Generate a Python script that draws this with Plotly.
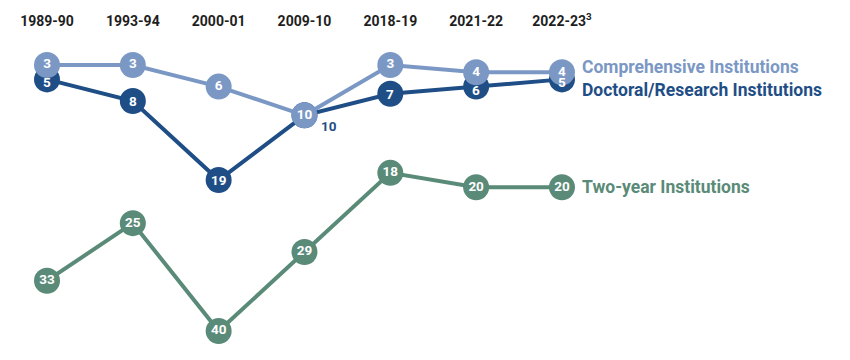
import plotly.graph_objects as go

years = ["1989-90", "1993-94", "2000-01", "2009-10", "2018-19", "2021-22", "2022-23"]
tick_labels = ["1989-90", "1993-94", "2000-01", "2009-10", "2018-19", "2021-22", "2022-23<sup>3</sup>"]
comprehensive = [3, 3, 6, 10, 3, 4, 4]
doctoral = [5, 8, 19, 10, 7, 6, 5]
two_year = [33, 25, 40, 29, 18, 20, 20]
series_names = ["Comprehensive Institutions", "Doctoral/Research Institutions", "Two-year Institutions"]

C_COMP = "#7b98c5"
C_DOC = "#1f4e86"
C_TWO = "#5a8a78"
FONT = "Roboto, Liberation Sans Narrow, sans-serif"

x = list(range(len(years)))
fig = go.Figure()

def add_series(vals, color, name, show_text=True):
    fig.add_trace(go.Scatter(
        x=x, y=vals, mode="lines+markers+text" if show_text else "lines+markers", name=name,
        line=dict(color=color, width=4),
        marker=dict(size=26, color=color, line=dict(width=0)),
        text=[str(v) for v in vals],
        textposition="middle center",
        textfont=dict(family=FONT, size=13.5, color="white", weight="bold"),
        cliponaxis=False, hoverinfo="skip",
    ))

add_series(two_year, C_TWO, series_names[2])
add_series(doctoral, C_DOC, series_names[1], show_text=False)
add_series(comprehensive, C_COMP, series_names[0])

# doctoral value labels drawn on top (shifted slightly down where circles overlap)
for i, (d, c) in enumerate(zip(doctoral, comprehensive)):
    if d == c:
        fig.add_annotation(x=x[i], y=d, text=str(d), showarrow=False,
                           xanchor="left", yanchor="middle", xshift=15, yshift=-11,
                           font=dict(family=FONT, size=13.5, color=C_DOC, weight="bold"))
    else:
        ys = -3 if abs(d - c) <= 2 else 0
        fig.add_annotation(x=x[i], y=d, text=str(d), showarrow=False,
                           xanchor="center", yanchor="middle", yshift=ys,
                           font=dict(family=FONT, size=13.5, color="white", weight="bold"))

# series labels at right end
label_specs = [
    (series_names[0], comprehensive[-1], C_COMP, 5),
    (series_names[1], doctoral[-1], C_DOC, -11),
    (series_names[2], two_year[-1], C_TWO, 0),
]
for txt, yv, col, ys in label_specs:
    fig.add_annotation(x=len(years) - 1, y=yv, text=txt, xanchor="left", yanchor="middle",
                       xshift=18, yshift=ys, showarrow=False,
                       font=dict(family=FONT, size=17.5, color=col, weight="bold"))

fig.update_layout(
    width=842, height=352,
    margin=dict(l=0, r=0, t=22, b=0),
    paper_bgcolor="white", plot_bgcolor="white",
    showlegend=False,
    xaxis=dict(side="top", range=[-0.4544, 9.356], tickvals=x, ticktext=tick_labels,
               showgrid=False, zeroline=False, showline=False, ticks="",
               tickfont=dict(family=FONT, size=14, color="#1e1e1e", weight="bold")),
    yaxis=dict(range=[44.03, -1.868], visible=False, showgrid=False, zeroline=False),
)

fig.write_html("out.html")
